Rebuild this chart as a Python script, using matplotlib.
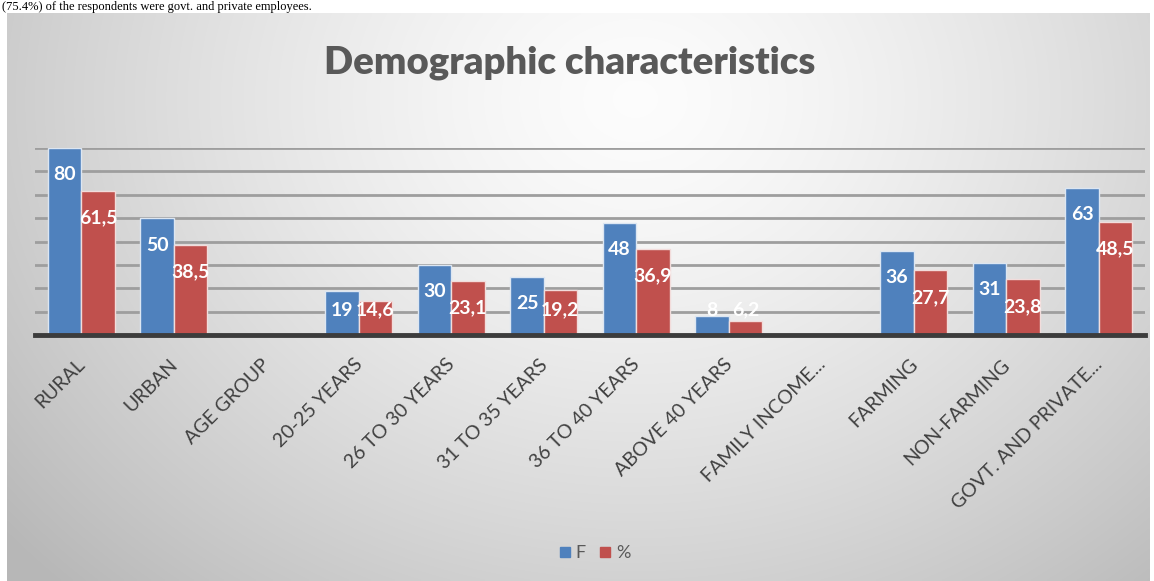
import numpy as np
import matplotlib
matplotlib.use("Agg")
import matplotlib.pyplot as plt
import matplotlib.transforms as mtransforms
from matplotlib.lines import Line2D

categories = ["RURAL", "URBAN", "AGE GROUP", "20-25 YEARS", "26 TO 30 YEARS",
              "31 TO 35 YEARS", "36 TO 40 YEARS", "ABOVE 40 YEARS",
              "FAMILY INCOME...", "FARMING", "NON-FARMING", "GOVT. AND PRIVATE..."]
freq = [80, 50, np.nan, 19, 30, 25, 48, 8, np.nan, 36, 31, 63]
pct = [61.5, 38.5, np.nan, 14.6, 23.1, 19.2, 36.9, 6.2, np.nan, 27.7, 23.8, 48.5]
pct_labels = ["61,5", "38,5", "", "14,6", "23,1", "19,2", "36,9", "6,2", "",
              "27,7", "23,8", "48,5"]
series_names = ["F", "%"]

BLUE = "#4f81bd"
RED = "#c0504d"

W, H = 1154, 581
fig = plt.figure(figsize=(W / 100, H / 100), dpi=100)
fig.patch.set_facecolor("white")

# line of the surrounding document text above the chart
fig.text(2 / W, 1 - 10 / H, "(75.4%) of the respondents were govt. and private employees.",
         family="Liberation Serif", fontsize=9, color="black", va="baseline")

# chart panel with a radial grey gradient
bg = fig.add_axes([7 / W, 0, (1150 - 7) / W, (H - 13) / H], zorder=-10)
gx, gy = np.meshgrid(np.linspace(0, 1, 400), np.linspace(0, 1, 200))
d = np.sqrt(((gx - 0.55) / 0.72) ** 2 + ((gy - 0.15) / 1.2) ** 2)
t = np.clip(d, 0, 1) ** 1.4
shade = 0.99 - t * (0.99 - 0.72)
bg.imshow(np.dstack([shade, shade, shade]), aspect="auto", extent=[0, 1, 1, 0],
          interpolation="bilinear")
bg.set_xlim(0, 1)
bg.set_ylim(1, 0)
bg.axis("off")

ax = fig.add_axes([35 / W, 1 - 335 / H, 1110 / W, (335 - 148) / H])
ax.set_facecolor("none")
x = np.arange(len(categories))
bw = 0.36
ax.set_xlim(-0.5, len(categories) - 0.5)
ax.set_ylim(0, 80)

for gv in range(10, 81, 10):
    ax.axhline(gv, color="#9e9e9e", lw=2, zorder=0)
ax.axhline(0, color="#3c3c3c", lw=3.5, zorder=3, clip_on=False)

ax.bar(x - bw / 2, freq, bw, color=BLUE, edgecolor="#dce6f2", lw=1, zorder=2)
ax.bar(x + bw / 2, pct, bw, color=RED, edgecolor="#f2dcdb", lw=1, zorder=2)

px = ax.bbox.height / 80
for i in range(len(categories)):
    for val, lab, dx in [(freq[i], None, -bw / 2), (pct[i], pct_labels[i], bw / 2)]:
        if np.isnan(val):
            continue
        text = lab if lab else f"{val:g}"
        ypos = max(val - 27 / px, 25 / px)
        ax.text(x[i] + dx, ypos, text, ha="center", va="center", color="white",
                fontsize=14, fontweight="bold", family="Lato", zorder=4)

ax.set_xticks(x)
ax.set_xticklabels(categories, rotation=45, ha="right", rotation_mode="anchor",
                   fontsize=14, color="#404040", family="Lato")
ax.tick_params(axis="x", length=0, pad=15)
shift = mtransforms.ScaledTranslation(-5 / 100, 0, fig.dpi_scale_trans)
for lbl in ax.get_xticklabels():
    lbl.set_transform(lbl.get_transform() + shift)
ax.set_yticks([])
for s in ax.spines.values():
    s.set_visible(False)

fig.text(570 / W, 1 - 63 / H, "Demographic characteristics", ha="center", va="center",
         fontsize=27.5, fontweight="heavy", color="#595959", family="Lato")

handles = [Line2D([], [], marker="s", ls="", color=BLUE, markersize=7.5),
           Line2D([], [], marker="s", ls="", color=RED, markersize=7.5)]
leg = fig.legend(handles, series_names, loc="center", bbox_to_anchor=(593 / W, 1 - 553 / H),
                 ncol=2, frameon=False, handletextpad=0.1, columnspacing=0.6,
                 handlelength=1.0, prop={"family": "Lato", "size": 13})
for tx in leg.get_texts():
    tx.set_color("#595959")

fig.savefig("out.png", dpi=100)
